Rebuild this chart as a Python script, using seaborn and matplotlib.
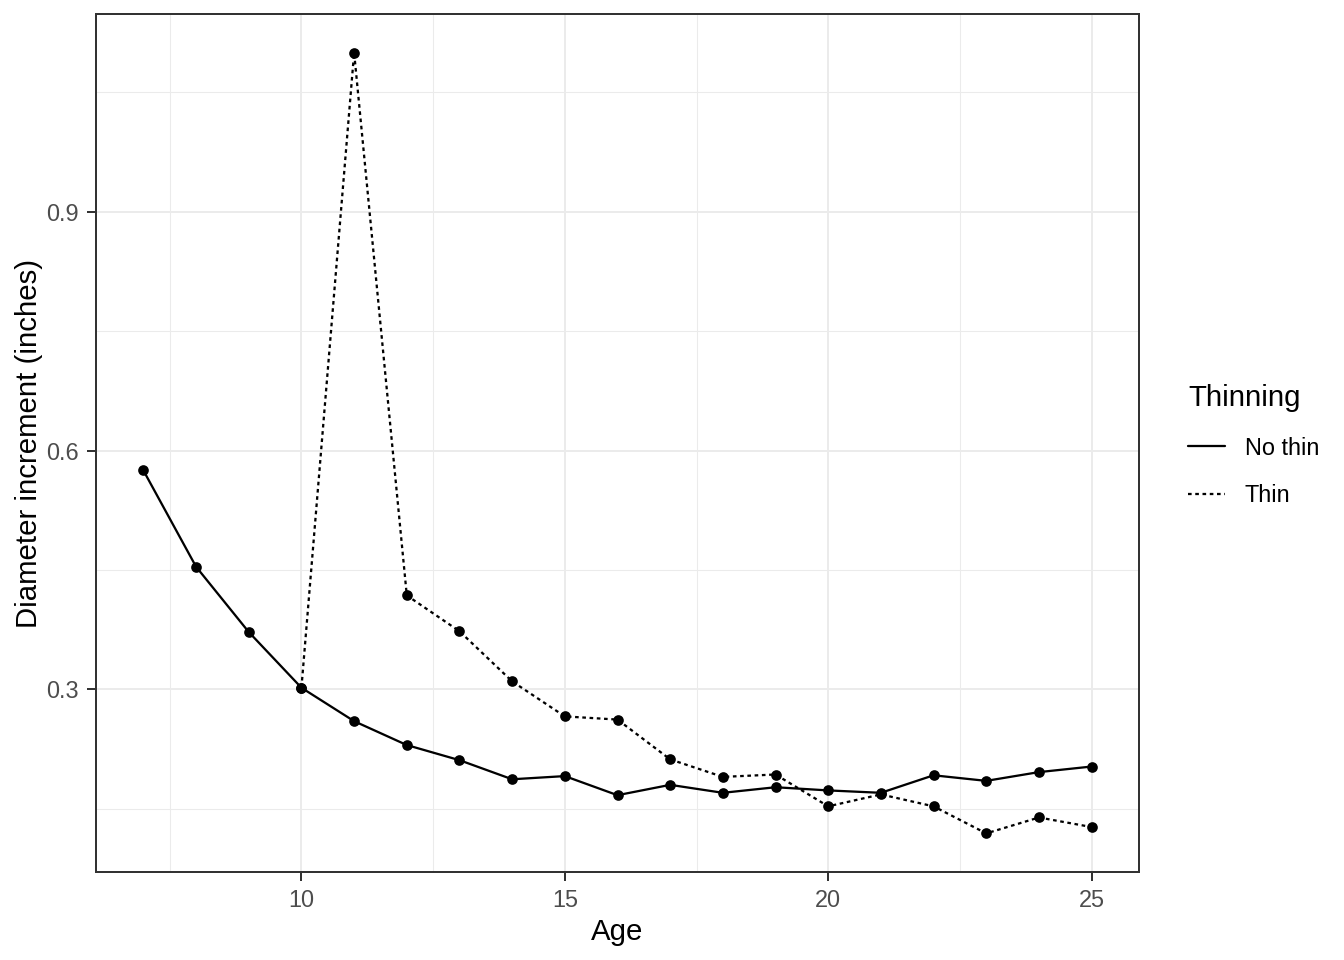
import numpy as np
import pandas as pd
import matplotlib.pyplot as plt
from matplotlib.ticker import MultipleLocator
import seaborn as sns

# values
age_nothin = list(range(7, 26))
inc_nothin = [0.575, 0.454, 0.372, 0.302, 0.260, 0.230, 0.211, 0.187, 0.191, 0.167,
              0.180, 0.170, 0.177, 0.173, 0.170, 0.192, 0.185, 0.196, 0.203]
age_thin = list(range(10, 26))
inc_thin = [0.302, 1.100, 0.418, 0.373, 0.310, 0.266, 0.262, 0.212, 0.190, 0.193,
            0.153, 0.168, 0.153, 0.119, 0.139, 0.127]
groups = ["No thin", "Thin"]

df = pd.concat([
    pd.DataFrame({"Age": age_nothin, "Inc": inc_nothin, "Thinning": groups[0]}),
    pd.DataFrame({"Age": age_thin, "Inc": inc_thin, "Thinning": groups[1]}),
])

sns.set_style("white")
plt.rcParams['font.family'] = ['Liberation Sans', 'DejaVu Sans']
plt.rcParams['text.color'] = 'black'
plt.rcParams['axes.labelcolor'] = 'black'

fig = plt.figure(figsize=(7, 5), dpi=192)
ax = fig.add_axes([96/1344, 1 - 872/960, (1139 - 96)/1344, (872 - 14)/960])

sns.lineplot(data=df, x="Age", y="Inc", style="Thinning", ax=ax,
             color="black", linewidth=0.85,
             dashes={"No thin": "", "Thin": (1.6, 1.6)},
             markers={"No thin": "o", "Thin": "o"},
             markersize=4.0, markeredgewidth=0, legend=True)

ax.set_xlim(6.1, 25.9)
ax.set_ylim(0.0705, 1.1485)
ax.xaxis.set_minor_locator(MultipleLocator(2.5))
ax.yaxis.set_minor_locator(MultipleLocator(0.15))
ax.set_xticks([10, 15, 20, 25])
ax.set_yticks([0.3, 0.6, 0.9])
ax.set_yticklabels(["0.3", "0.6", "0.9"])

ax.grid(True, which="major", color="#EBEBEB", linewidth=0.75)
ax.grid(True, which="minor", color="#EBEBEB", linewidth=0.4)
ax.set_axisbelow(True)
for s in ax.spines.values():
    s.set_color("#333333")
    s.set_linewidth(0.75)

ax.tick_params(which="major", direction="out", length=3.5, width=0.75,
               color="#333333", labelsize=8.8, labelcolor="#4D4D4D", pad=3,
               bottom=True, left=True)
ax.tick_params(which="minor", length=0)
ax.set_xlabel("Age", fontsize=11, labelpad=2, color="black")
ax.set_ylabel("Diameter increment (inches)", fontsize=11, labelpad=1, color="black")

handles, labels = ax.get_legend_handles_labels()
for h in handles:
    h.set_marker("")
leg = ax.legend(handles, labels, title="Thinning", loc="center left",
                bbox_to_anchor=(1.027, 0.497), frameon=False, fontsize=8.8,
                title_fontsize=11, handlelength=1.55, labelspacing=1.05,
                handletextpad=0.85, alignment="left")
leg.get_title().set_color("black")
for t in leg.get_texts():
    t.set_color("black")

fig.savefig("out.png", dpi=192)
